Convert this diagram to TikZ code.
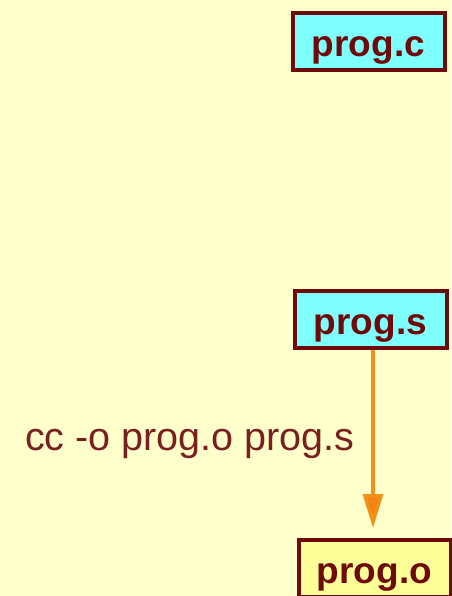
\documentclass[tikz,border=0pt]{standalone}
\usepackage{fontspec}
\setmainfont{Liberation Sans}
\usetikzlibrary{arrows.meta}
\definecolor{bgc}{HTML}{FFFFCC}
\definecolor{cyanfill}{HTML}{80FFFF}
\definecolor{yelfill}{HTML}{FFFF99}
\definecolor{darkred}{HTML}{6E0A0A}
\definecolor{labred}{HTML}{7A1E1E}
\definecolor{arroworange}{HTML}{F39019}
\tikzset{
  filebox/.style={draw=darkred, line width=4pt, text=darkred,
    font=\fontsize{37}{44}\selectfont\bfseries,
    minimum width=152pt, minimum height=57pt, inner sep=0pt,
    text height=38pt, text depth=7pt},
  srcbox/.style={filebox, fill=cyanfill},
  objbox/.style={filebox, fill=yelfill},
  flow/.style={draw=arroworange, line width=3.5pt,
    -{Triangle[length=34pt,width=20pt,fill=arroworange!90!red]}},
  cmdlabel/.style={text=labred, font=\fontsize{39.5}{46}\selectfont, inner sep=0pt}
}
\begin{document}
\begin{tikzpicture}[x=1pt,y=-1pt]
\fill[bgc] (0,0) rectangle (451,596);
\useasboundingbox (0,0) rectangle (451,596);
\node[srcbox] (progc) at (368.5,41.5) {prog.c};
\node[srcbox] (progs) at (370.5,319) {prog.s};
\node[objbox] (progo) at (374.5,568) {prog.o};
\coordinate (ax) at (373,0);
\draw[flow, shorten >=9.5pt] (progs.south -| ax) -- (progo.north -| ax);
\node[cmdlabel, anchor=base west] (cmd) at (25,450) {cc -o prog.o prog.s};
\end{tikzpicture}
\end{document}
